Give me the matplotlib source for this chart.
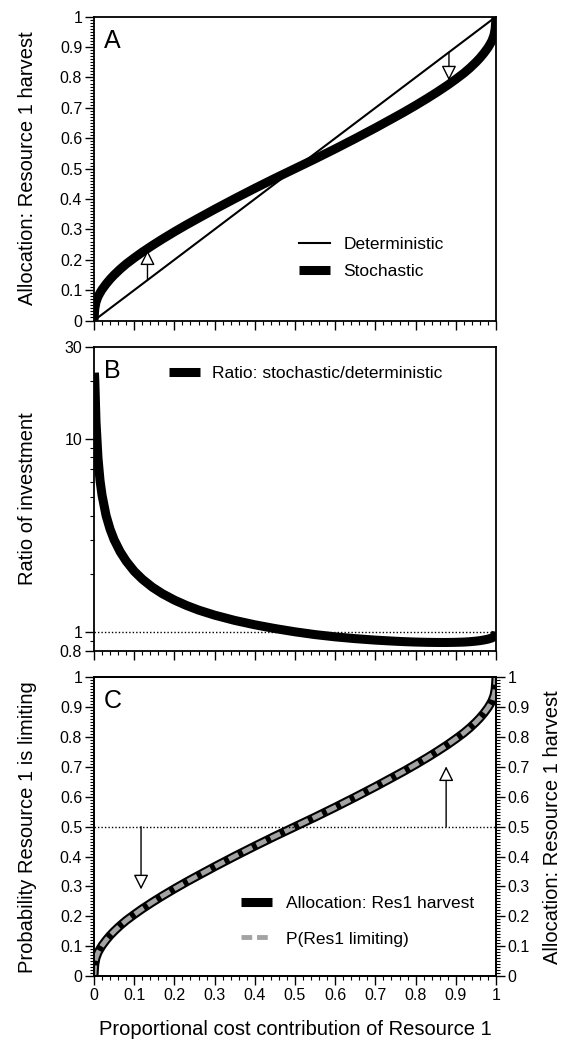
import matplotlib
matplotlib.use("Agg")
import matplotlib.pyplot as plt
from matplotlib.ticker import MultipleLocator, FixedLocator, FuncFormatter, NullFormatter
from matplotlib.lines import Line2D

plt.rcParams['font.family'] = ['Liberation Sans', 'DejaVu Sans']

# proportional cost contribution of resource 1
cost_x = [0.0, 0.001, 0.002, 0.005, 0.01, 0.015, 0.02, 0.03, 0.04, 0.05, 0.065, 0.08,
          0.1, 0.12, 0.145, 0.17, 0.2, 0.23, 0.26, 0.3, 0.35, 0.4, 0.45, 0.5,
          0.55, 0.6, 0.65, 0.7, 0.74, 0.77, 0.8, 0.83, 0.855, 0.88, 0.9, 0.92,
          0.935, 0.95, 0.96, 0.97, 0.98, 0.985, 0.99, 0.995, 0.998, 0.999, 1.0]
# stochastic allocation to resource 1 harvest
alloc_stoch = [0.0, 0.022, 0.04, 0.061, 0.079, 0.091, 0.102, 0.12, 0.136, 0.15, 0.169, 0.186,
               0.206, 0.225, 0.247, 0.268, 0.292, 0.315, 0.337, 0.366, 0.401, 0.435, 0.468, 0.5,
               0.532, 0.565, 0.599, 0.634, 0.663, 0.685, 0.708, 0.732, 0.753, 0.775, 0.794, 0.814,
               0.831, 0.85, 0.864, 0.88, 0.898, 0.909, 0.921, 0.939, 0.96, 0.978, 1.0]
# probability resource 1 is limiting (same curve)
p_limiting = list(alloc_stoch)
# deterministic allocation
det_x = [0.0, 1.0]
det_y = [0.0, 1.0]
# ratio stochastic / deterministic
ratio_x = [x for x in cost_x if x > 0]
ratio_y = [a / x for x, a in zip(cost_x, alloc_stoch) if x > 0]

TICK_FS = 11.5
LABEL_FS = 14.5
LEG_FS = 12.5
THICK = 6.5

fig = plt.figure(figsize=(5.66, 10.43), dpi=100)
left, width = 0.1661, 0.7102
axA = fig.add_axes([left, 0.6927, width, 0.2913])
axB = fig.add_axes([left, 0.3763, width, 0.2913])
axC = fig.add_axes([left, 0.0642, width, 0.2864])

fmt = FuncFormatter(lambda v, p: f"{v:g}")


def style_x(ax, labels):
    ax.set_xlim(0, 1)
    ax.xaxis.set_major_locator(MultipleLocator(0.1))
    ax.xaxis.set_minor_locator(MultipleLocator(0.02))
    if labels:
        ax.xaxis.set_major_formatter(fmt)
    else:
        ax.xaxis.set_major_formatter(NullFormatter())
    ax.tick_params(axis='x', which='both', direction='out', top=False, labelsize=TICK_FS)


def style_lin_y(ax):
    ax.set_ylim(0, 1)
    ax.yaxis.set_major_locator(MultipleLocator(0.1))
    ax.yaxis.set_minor_locator(MultipleLocator(0.01))
    ax.yaxis.set_major_formatter(fmt)


for ax in (axA, axB, axC):
    for s in ax.spines.values():
        s.set_linewidth(1.3)
    ax.tick_params(which='major', length=6.5, width=1.0, labelsize=TICK_FS, pad=2)
    ax.tick_params(which='minor', length=3, width=0.8)
    ax.tick_params(axis='y', which='both', direction='out', right=False)

arrow_kw = dict(arrowstyle='-|>,head_length=0.9,head_width=0.45', fc='white', ec='black',
                lw=1.0, mutation_scale=10, shrinkA=0, shrinkB=0)
thick_kw = dict(color='black', lw=THICK, solid_capstyle='butt', solid_joinstyle='round')

# Panel A
axA.plot(det_x, det_y, color='black', lw=1.5, label='Deterministic')
axA.plot(cost_x, alloc_stoch, label='Stochastic', **thick_kw)
axA.annotate('', xy=(0.133, 0.231), xytext=(0.133, 0.133), arrowprops=arrow_kw)
axA.annotate('', xy=(0.883, 0.79), xytext=(0.883, 0.883), arrowprops=arrow_kw)
style_x(axA, False)
style_lin_y(axA)
axA.set_ylabel('Allocation: Resource 1 harvest', fontsize=LABEL_FS)
axA.yaxis.set_label_coords(-0.142, 0.5)
axA.text(0.025, 0.92, 'A', transform=axA.transAxes, fontsize=18, va='center', ha='left')
axA.legend(loc='upper left', bbox_to_anchor=(0.51, 0.275), frameon=False, fontsize=LEG_FS,
           handlelength=1.8, handletextpad=0.75, labelspacing=0.7, borderpad=0, borderaxespad=0)

# Panel B
axB.plot(ratio_x, ratio_y, label='Ratio: stochastic/deterministic', **thick_kw)
axB.axhline(1.0, color='black', lw=1.0, ls=(0, (1, 1.5)))
axB.set_yscale('log')
axB.set_ylim(0.8, 30)
axB.yaxis.set_major_locator(FixedLocator([0.8, 1, 10, 30]))
axB.yaxis.set_major_formatter(fmt)
axB.yaxis.set_minor_locator(FixedLocator([0.9, 2, 3, 4, 5, 6, 7, 8, 9, 20]))
axB.yaxis.set_minor_formatter(NullFormatter())
style_x(axB, False)
axB.set_ylabel('Ratio of investment', fontsize=LABEL_FS)
axB.yaxis.set_label_coords(-0.142, 0.5)
axB.text(0.025, 0.92, 'B', transform=axB.transAxes, fontsize=18, va='center', ha='left')
axB.legend(loc='upper left', bbox_to_anchor=(0.187, 0.937), frameon=False, fontsize=LEG_FS,
           handlelength=1.75, handletextpad=0.7, borderpad=0, borderaxespad=0)

# Panel C
axC.plot(cost_x, alloc_stoch, **thick_kw)
axC.plot(cost_x, p_limiting, color='#a3a3a3', lw=3.5, dashes=(2.2, 1.0), dash_capstyle='butt',
         dash_joinstyle='round')
axC.axhline(0.5, color='black', lw=1.0, ls=(0, (1, 1.5)))
axC.annotate('', xy=(0.117, 0.29), xytext=(0.117, 0.5), arrowprops=arrow_kw)
axC.annotate('', xy=(0.876, 0.702), xytext=(0.876, 0.5), arrowprops=arrow_kw)
style_x(axC, True)
style_lin_y(axC)
axC.set_ylabel('Probability Resource 1 is limiting', fontsize=LABEL_FS)
axC.yaxis.set_label_coords(-0.142, 0.5)
axC.set_xlabel('Proportional cost contribution of Resource 1', fontsize=LABEL_FS, labelpad=12)
axC.text(0.025, 0.92, 'C', transform=axC.transAxes, fontsize=18, va='center', ha='left')
handlesC = [Line2D([], [], color='black', lw=THICK, solid_capstyle='butt'),
            Line2D([], [], color='#a3a3a3', lw=3.5, dashes=(2.2, 1.0), dash_capstyle='butt')]
axC.legend(handlesC, ['Allocation: Res1 harvest', 'P(Res1 limiting)'], loc='upper left',
           bbox_to_anchor=(0.366, 0.267), frameon=False, fontsize=LEG_FS,
           handlelength=1.75, handletextpad=0.85, labelspacing=1.15, borderpad=0, borderaxespad=0)

axR = axC.twinx()
axR.set_ylim(0, 1)
axR.yaxis.set_major_locator(MultipleLocator(0.1))
axR.yaxis.set_minor_locator(MultipleLocator(0.01))
axR.yaxis.set_major_formatter(fmt)
axR.tick_params(which='major', length=6.5, width=1.0, labelsize=TICK_FS, pad=2, direction='out')
axR.tick_params(which='minor', length=3, width=0.8, direction='out')
axR.set_ylabel('Allocation: Resource 1 harvest', fontsize=LABEL_FS)
axR.yaxis.set_label_coords(1.118, 0.5)
for s in axR.spines.values():
    s.set_linewidth(1.3)

fig.savefig('out.png', dpi=100)
